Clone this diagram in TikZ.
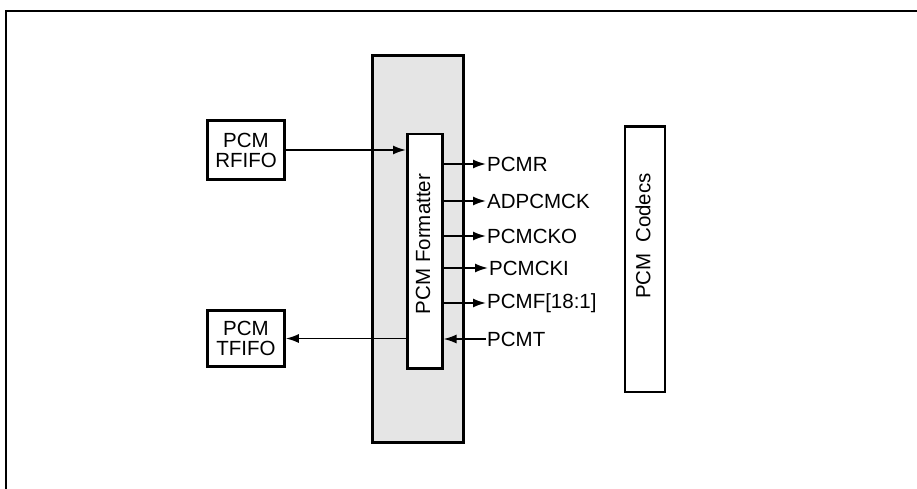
\documentclass[tikz,border=0pt]{standalone}
\usepackage{fontspec}
\setmainfont{Liberation Sans}
\usetikzlibrary{arrows.meta}
\begin{document}
\begin{tikzpicture}[x=1pt,y=-1pt,
  every node/.style={font=\fontsize{20.5}{23}\selectfont},
  blk/.style={draw,line width=2.5pt,inner sep=0pt},
  sig/.style={line width=1.8pt,-{Latex[length=13pt,width=9pt]}},
  lbl/.style={anchor=west,inner sep=1pt}]
\useasboundingbox (0,0) rectangle (917,489);
% outer frame
\coordinate (fa) at (6,489);
\coordinate (fb) at (6,11);
\coordinate (fc) at (917,11);
\draw[line width=2pt] (fa) -- (fb) -- (fc);
% gray block
\node[blk,fill=black!10,line width=3pt,minimum width=91,minimum height=387,anchor=north west] (gray) at (371,54) {};
% formatter
\node[blk,fill=white,minimum width=35,minimum height=234,anchor=north west] (fmt) at (406,133) {};
\node[rotate=90,inner sep=0pt] (fmtt) at (423,244) {PCM Formatter};
% fifos
\node[blk,minimum width=77,minimum height=59,align=center] (rf) at (246,150) {PCM\\[-3pt]RFIFO};
\node[blk,minimum width=77,minimum height=56,align=center] (tf) at (246,338.5) {PCM\\[-3pt]TFIFO};
% codecs
\node[blk,minimum width=40,minimum height=265,anchor=north west] (cod) at (623.5,125.5) {};
\node[rotate=90,inner sep=0pt] (codt) at (643,236) {PCM\hspace{5pt} Codecs};
% signals
\node[lbl] (s1) at (486,164) {PCMR};
\node[lbl] (s2) at (486,201) {ADPCMCK};
\node[lbl] (s3) at (486,236) {PCMCKO};
\node[lbl] (s4) at (488,268) {PCMCKI};
\node[lbl] (s5) at (486,303) {PCMF[18:1]};
\node[lbl] (s6) at (486,339) {PCMT};
\foreach \s in {s1,s2,s3,s4,s5}{
  \draw[sig] (fmt.east |- \s.west) -- (\s.west);
}
\draw[sig] (s6.west) -- (fmt.east |- s6.west);
\draw[sig] (rf.east) -- (rf.east -| fmt.west);
\draw[sig] (tf.east -| fmt.west) -- (tf.east);
\end{tikzpicture}
\end{document}
